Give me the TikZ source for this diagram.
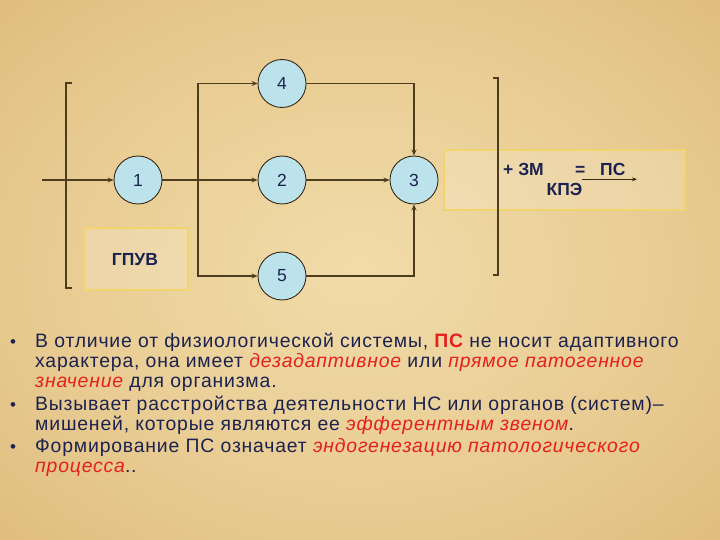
\documentclass[tikz,border=0pt]{standalone}
\usepackage{fontspec}
\setmainfont{Liberation Sans}
\newfontfamily\bodyfont[LetterSpace=4.2]{Liberation Sans}
\usetikzlibrary{arrows.meta}
\definecolor{pin}{HTML}{F1DCAA}
\definecolor{pmid}{HTML}{E8CB91}
\definecolor{pout}{HTML}{D6AE6C}
\definecolor{navy}{HTML}{1C2250}
\definecolor{redtxt}{HTML}{E5201B}
\definecolor{wire}{HTML}{4E3C1E}
\definecolor{cfill}{HTML}{BCE2EC}
\definecolor{gold}{HTML}{F2D46C}
\pgfdeclareradialshading{parch}{\pgfpoint{0bp}{0bp}}{color(0bp)=(pin); color(22bp)=(pmid); color(50bp)=(pout)}
\tikzset{
  circ/.style={circle, draw=wire!70!black, line width=0.9pt, fill=cfill, minimum size=48pt, inner sep=0pt, font=\fontsize{17.5}{20}\selectfont, text=navy},
  wire/.style={draw=wire, line width=1.4pt},
  arr/.style={wire, -{Stealth[length=6pt,width=5pt]}},
  goldbox/.style={draw=gold, line width=2pt, fill=white, fill opacity=0.18, text opacity=1},
  lbl/.style={anchor=base west, inner sep=0pt, font=\fontsize{17.5}{20}\selectfont\bfseries, text=navy},
  txt/.style={anchor=base west, inner sep=0pt, font=\bodyfont\fontsize{19.4}{20}\selectfont, text=navy},
  bul/.style={anchor=base, inner sep=0pt, font=\fontsize{17}{20}\selectfont, text=navy},
}
\newcommand{\rd}[1]{\textcolor{redtxt}{\itshape #1}}
\begin{document}
\begin{tikzpicture}[x=1pt,y=-1pt]
\useasboundingbox (0,0) rectangle (720,540);
\shade[shading=parch] (0,0) rectangle (720,540);

% boxes
\node[goldbox, minimum width=104pt, minimum height=62pt, anchor=north west] (gpuv) at (83,227) {};
\node[lbl, anchor=base] (gpuvt) at (135,265) {ГПУВ};
\node[goldbox, minimum width=241pt, minimum height=60pt, anchor=north west] (rbox) at (443,149) {};

% circles
\node[circ] (c1) at (138,180) {1};
\node[circ] (c2) at (282,180) {2};
\node[circ] (c3) at (414,180) {3};
\node[circ] (c4) at (282,83.5) {4};
\node[circ] (c5) at (282,276) {5};

% brackets
\coordinate (lbt) at (72,83);
\coordinate (lbb) at (72,288);
\draw[wire] (lbt) -- (66,83) -- (66,288) -- (lbb);
\coordinate (rbt) at (493,78);
\coordinate (rbb) at (493,275);
\draw[wire] (rbt) -- (498,78) -- (498,275) -- (rbb);

% connectors
\coordinate (in) at (42,180);
\coordinate (j) at (198,180);
\draw[arr] (in) -- (c1);
\draw[arr] (c1) -- (c2);
\draw[arr] (j) |- (c4);
\draw[arr] (j) |- (c5);
\draw[arr] (c2) -- (c3);
\draw[arr] (c4) -| (c3);
\draw[arr] (c5) -| (c3);

% formula
\node[lbl] (zm) at (503,176) {+ ЗМ};
\node[lbl] (eq) at (575,176) {=};
\node[lbl] (ps) at (600,176) {ПС};
\node[lbl] (kpe) at (546.5,196) {КПЭ};
\coordinate (fa) at (582,179.3);
\coordinate (fb) at (637,179.3);
\draw[draw=wire!70!black, line width=1pt, -{Stealth[length=5pt,width=4pt]}] (fa) -- (fb);

% bullets
\node[bul] (b1) at (13,347.5) {•};
\node[bul] (b2) at (13,410.5) {•};
\node[bul] (b3) at (13,452.5) {•};
\node[txt] (l1) at (35,347.5) {В отличие от физиологической системы, \textcolor{redtxt}{\bfseries ПС} не носит адаптивного};
\node[txt] (l2) at (35,367.5) {характера, она имеет \rd{дезадаптивное} или \rd{прямое патогенное}};
\node[txt] (l3) at (35,387.5) {\rd{значение} для организма.};
\node[txt] (l4) at (35,410.5) {Вызывает расстройства деятельности НС или органов (систем)–};
\node[txt] (l5) at (35,430.5) {мишеней, которые являются ее \rd{эфферентным звеном}.};
\node[txt] (l6) at (35,452.5) {Формирование ПС означает \rd{эндогенезацию патологического}};
\node[txt] (l7) at (35,472.5) {\rd{процесса}..};
\end{tikzpicture}
\end{document}
